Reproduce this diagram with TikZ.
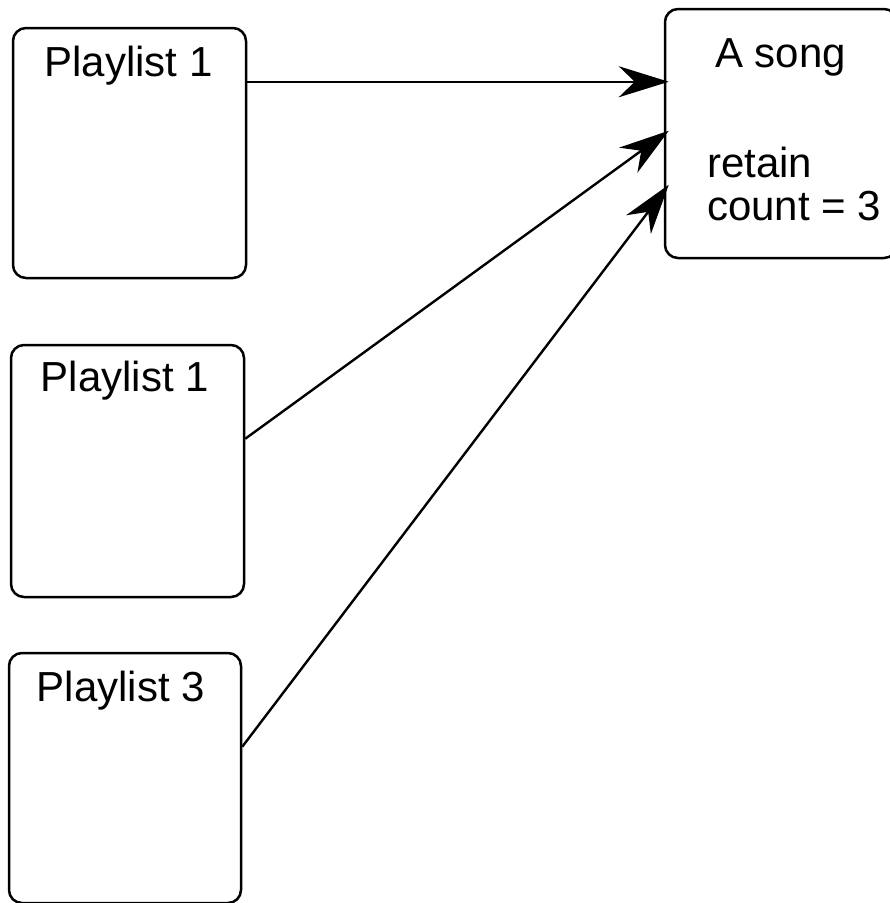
\documentclass[tikz,border=0pt]{standalone}
\usepackage{fontspec}
\setmainfont{Liberation Sans}
\usetikzlibrary{arrows.meta,calc}
\begin{document}
\begin{tikzpicture}[x=1pt,y=-1pt,
  box/.style={draw,line width=2.5pt,rounded corners=13pt,inner sep=0pt},
  lbl/.style={font=\fontsize{42}{48}\selectfont,inner sep=0pt},
  conn/.style={line width=2.4pt,-{Stealth[length=50pt,width=31pt,inset=16pt]}}]
\useasboundingbox (0,0) rectangle (890,903);
\node[box,minimum width=233pt,minimum height=250pt] (p1) at (129.5,153) {};
\node[box,minimum width=233pt,minimum height=252pt] (p2) at (127.5,471) {};
\node[box,minimum width=232pt,minimum height=250pt] (p3) at (125,778) {};
\node[box,minimum width=232pt,minimum height=249pt] (song) at (781,133.5) {};
\node[lbl,anchor=base] (t1) at ([xshift=-1pt,yshift=-50pt]p1.north) {Playlist 1};
\node[lbl,anchor=base] (t2) at ([xshift=-2.5pt,yshift=-48pt]p2.north) {Playlist 1};
\node[lbl,anchor=base] (t3) at ([xshift=-4pt,yshift=-50pt]p3.north) {Playlist 3};
\node[lbl,anchor=base west] (ts) at (715,67) {A song};
\node[lbl,anchor=base west] (tr) at (707,177) {retain};
\node[lbl,anchor=base west] (tc) at (707,220) {count = 3};
\coordinate (s1) at ([yshift=-55pt]p1.north east);
\coordinate (s2) at ([yshift=-95pt]p2.north east);
\coordinate (s3) at ([yshift=-95pt]p3.north east);
\coordinate (e1) at ([xshift=5pt,yshift=-74pt]song.north west);
\coordinate (e2) at ([xshift=5pt,yshift=-123pt]song.north west);
\coordinate (e3) at ([xshift=5pt,yshift=-177pt]song.north west);
\draw[conn] (s1) -- (e1);
\draw[conn] (s2) -- (e2);
\draw[conn] (s3) -- (e3);
\end{tikzpicture}
\end{document}
